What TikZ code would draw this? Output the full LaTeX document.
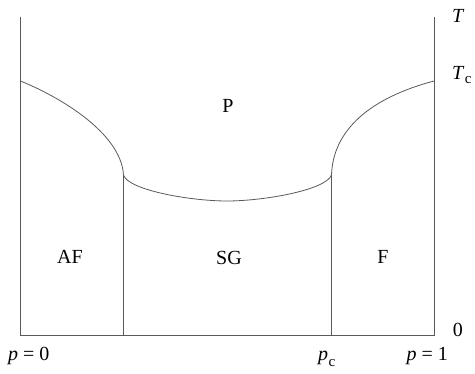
\documentclass[tikz,border=0pt]{standalone}
\usepackage{fontspec}
\setmainfont{Liberation Serif}
\begin{document}
\begin{tikzpicture}[x=1pt,y=-1pt,
  ln/.style={draw=black!65,line width=0.8pt},
  lbl/.style={font=\fontsize{20}{23}\selectfont,inner sep=0pt},
  sub/.style={font=\fontsize{15}{17}\selectfont,inner sep=0pt}]
\useasboundingbox (0,0) rectangle (475,374);
% frame points
\coordinate (lt) at (20.5,17);
\coordinate (lb) at (20.5,335);
\coordinate (rt) at (434,17);
\coordinate (rb) at (434,335);
\coordinate (tl) at (20.5,81);
\coordinate (tr) at (434,81);
\coordinate (jl) at (123.5,175);
\coordinate (jr) at (331.5,175);
\coordinate (bl) at (123.5,335);
\coordinate (br) at (331.5,335);
\coordinate (mid) at (227,201);
\draw[ln] (lt) -- (lb) -- (rb) -- (rt);
\draw[ln] (jl) -- (bl);
\draw[ln] (jr) -- (br);
\draw[ln] (tl) .. controls (60,97) and (121,133) .. (jl);
\draw[ln] (jl) .. controls (128,190) and (190,201) .. (mid)
               .. controls (264,201) and (326,190) .. (jr);
\draw[ln] (jr) .. controls (333,130) and (370,98) .. (tr);
% labels
\node[lbl] (P) at (228,106) {P};
\node[lbl] (AF) at (70,257) {AF};
\node[lbl] (SG) at (229,258) {SG};
\node[lbl] (F) at (383,257) {F};
\node[lbl,anchor=base west] (T) at (452,23) {\textit{T}};
\node[lbl,anchor=base west] (Tc) at (452,80) {\textit{T}};
\node[sub,anchor=base west] (c1) at (Tc.base east) [yshift=-4pt] {c};
\node[lbl,anchor=base east] (zero) at (463,337) {0};
\node[lbl,anchor=base west] (p0) at (8,361) {\textit{p}\hspace{0.25em}=\hspace{0.25em}0};
\node[lbl,anchor=base west] (pc) at (318,361) {\textit{p}};
\node[sub,anchor=base west] (c2) at (pc.base east) [yshift=-6pt] {c};
\node[lbl,anchor=base east] (p1) at (448,361) {\textit{p}\hspace{0.25em}=\hspace{0.25em}1};
\end{tikzpicture}
\end{document}
